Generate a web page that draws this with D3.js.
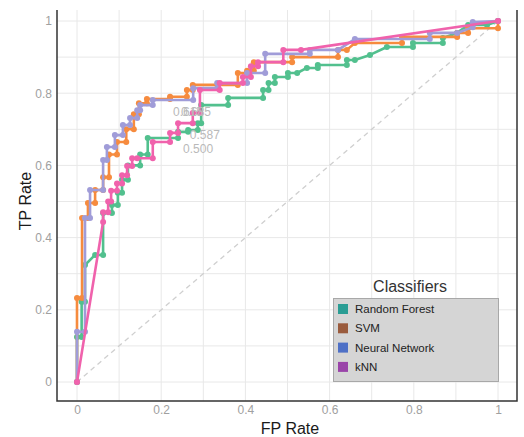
<!DOCTYPE html>
<html>
<head>
<meta charset="utf-8">
<script src="https://cdn.jsdelivr.net/npm/d3@7"></script>
<style>
  html, body { margin: 0; padding: 0; background: #fff; }
  svg { display: block; font-family: "Liberation Sans", Arial, sans-serif; }
</style>
</head>
<body>
<svg id="chart" width="524" height="437"></svg>
<script>
// ROC curves for four classifiers
const classifiers = ["Random Forest", "SVM", "Neural Network", "kNN"];
const lineColors = ["#52c08e", "#f68b3e", "#a09cd8", "#f062ac"];
const legendColors = ["#2a9d94", "#9a5b3d", "#4e70c6", "#9a44a9"];

const rfFpr = [0, 0, 0.011, 0.011, 0.019, 0.019, 0.043, 0.062, 0.062, 0.083, 0.083, 0.097, 0.097, 0.107, 0.107, 0.121, 0.121, 0.15, 0.15, 0.168, 0.168, 0.24, 0.24, 0.264, 0.264, 0.287, 0.287, 0.295, 0.295, 0.359, 0.359, 0.442, 0.442, 0.455, 0.455, 0.47, 0.47, 0.501, 0.501, 0.523, 0.546, 0.572, 0.572, 0.641, 0.641, 0.66, 0.696, 0.736, 0.798, 0.798, 0.869, 0.869, 0.903, 0.929, 0.974, 1];
const rfTpr = [0, 0.125, 0.125, 0.222, 0.222, 0.324, 0.352, 0.352, 0.468, 0.468, 0.49, 0.49, 0.524, 0.524, 0.56, 0.56, 0.6, 0.6, 0.63, 0.63, 0.676, 0.676, 0.693, 0.693, 0.698, 0.698, 0.717, 0.717, 0.767, 0.767, 0.787, 0.787, 0.809, 0.809, 0.828, 0.828, 0.845, 0.845, 0.856, 0.856, 0.87, 0.87, 0.878, 0.878, 0.892, 0.892, 0.906, 0.928, 0.928, 0.939, 0.939, 0.953, 0.967, 0.989, 0.989, 1];

const svmFpr = [0, 0, 0.012, 0.012, 0.026, 0.026, 0.043, 0.043, 0.062, 0.062, 0.076, 0.076, 0.095, 0.095, 0.117, 0.117, 0.135, 0.135, 0.147, 0.147, 0.166, 0.166, 0.221, 0.221, 0.261, 0.261, 0.275, 0.275, 0.382, 0.382, 0.404, 0.404, 0.42, 0.42, 0.511, 0.511, 0.62, 0.62, 0.641, 0.66, 0.772, 0.772, 0.903, 0.903, 0.929, 0.929, 1, 1];
const svmTpr = [0, 0.233, 0.233, 0.454, 0.454, 0.496, 0.496, 0.532, 0.532, 0.567, 0.567, 0.63, 0.63, 0.665, 0.665, 0.7, 0.7, 0.742, 0.742, 0.772, 0.772, 0.784, 0.784, 0.79, 0.79, 0.809, 0.809, 0.823, 0.823, 0.856, 0.856, 0.862, 0.862, 0.886, 0.886, 0.9, 0.9, 0.92, 0.92, 0.939, 0.939, 0.956, 0.956, 0.967, 0.967, 0.98, 0.98, 1];

const nnFpr = [0, 0, 0.019, 0.019, 0.031, 0.031, 0.062, 0.062, 0.071, 0.071, 0.09, 0.09, 0.109, 0.109, 0.126, 0.126, 0.143, 0.143, 0.15, 0.15, 0.18, 0.18, 0.276, 0.276, 0.333, 0.333, 0.404, 0.404, 0.447, 0.447, 0.553, 0.553, 0.62, 0.66, 0.838, 0.838, 0.903, 0.94, 0.94, 1];
const nnTpr = [0, 0.139, 0.139, 0.454, 0.454, 0.532, 0.532, 0.615, 0.615, 0.651, 0.651, 0.684, 0.684, 0.712, 0.712, 0.731, 0.731, 0.753, 0.753, 0.767, 0.767, 0.781, 0.781, 0.814, 0.814, 0.828, 0.828, 0.856, 0.856, 0.909, 0.909, 0.92, 0.92, 0.95, 0.95, 0.967, 0.967, 0.983, 0.997, 1];

const knnFpr = [0, 0.062, 0.062, 0.074, 0.074, 0.081, 0.081, 0.095, 0.095, 0.107, 0.107, 0.119, 0.119, 0.131, 0.131, 0.143, 0.18, 0.18, 0.221, 0.221, 0.24, 0.24, 0.275, 0.275, 0.292, 0.292, 0.339, 0.339, 0.394, 0.394, 0.413, 0.413, 0.43, 0.43, 0.49, 0.49, 0.532, 1];
const knnTpr = [0, 0.443, 0.47, 0.47, 0.5, 0.5, 0.53, 0.53, 0.55, 0.55, 0.573, 0.573, 0.598, 0.598, 0.62, 0.62, 0.62, 0.665, 0.665, 0.69, 0.69, 0.717, 0.717, 0.745, 0.745, 0.809, 0.809, 0.828, 0.828, 0.845, 0.845, 0.875, 0.875, 0.886, 0.886, 0.92, 0.92, 1];

const seriesFpr = [rfFpr, svmFpr, nnFpr, knnFpr];
const seriesTpr = [rfTpr, svmTpr, nnTpr, knnTpr];

// threshold annotations: [fpr, tpr, text]
const thresholdText = ["0.615", "0.685", "0.587", "0.500"];
const thresholdFpr = [0.228, 0.247, 0.268, 0.252];
const thresholdTpr = [0.736, 0.736, 0.673, 0.634];

const xTicks = [0, 0.2, 0.4, 0.6, 0.8, 1];
const yTicks = [0, 0.2, 0.4, 0.6, 0.8, 1];
const xTickLabels = ["0", "0.2", "0.4", "0.6", "0.8", "1"];
const yTickLabels = ["0", "0.2", "0.4", "0.6", "0.8", "1"];
const gridValues = d3.range(0, 11).map(i => i / 10);

const svg = d3.select("#chart");
const frame = { left: 57, right: 517, top: 10, bottom: 401 };

const x = d3.scaleLinear().domain([0, 1]).range([77, 498]);
const y = d3.scaleLinear().domain([0, 1]).range([382, 21]);

// grid
const grid = svg.append("g");
grid.selectAll("line.v").data(gridValues).join("line")
  .attr("x1", d => x(d)).attr("x2", d => x(d))
  .attr("y1", frame.top).attr("y2", frame.bottom)
  .attr("stroke", "#e8e8e8").attr("stroke-width", 1);
grid.selectAll("line.h").data(gridValues).join("line")
  .attr("y1", d => y(d)).attr("y2", d => y(d))
  .attr("x1", frame.left).attr("x2", frame.right)
  .attr("stroke", "#e8e8e8").attr("stroke-width", 1);

// frame (left, bottom, right)
svg.append("path")
  .attr("d", `M${frame.left},${frame.top}V${frame.bottom}H${frame.right}V${frame.top}`)
  .attr("fill", "none").attr("stroke", "#333").attr("stroke-width", 1.5);

// axes
const xAxis = d3.axisBottom(x).tickValues(xTicks)
  .tickFormat((d, i) => xTickLabels[i]).tickSize(0).tickPadding(0);
const gx = svg.append("g").attr("transform", `translate(0,${frame.bottom + 4})`).call(xAxis);
const yAxis = d3.axisLeft(y).tickValues(yTicks)
  .tickFormat((d, i) => yTickLabels[i]).tickSize(0).tickPadding(0);
const gy = svg.append("g").attr("transform", `translate(${frame.left - 5},0)`).call(yAxis);
[gx, gy].forEach(g => {
  g.select(".domain").remove();
  g.selectAll("text").attr("fill", "#a0a0a0").attr("font-size", 12)
    .attr("font-family", "'Liberation Sans', Arial, sans-serif");
});

// chance diagonal
svg.append("line")
  .attr("x1", x(0)).attr("y1", y(0)).attr("x2", x(1)).attr("y2", y(1))
  .attr("stroke", "#cfcfcf").attr("stroke-width", 1.3).attr("stroke-dasharray", "5,4");

// ROC curves with points
const line = d3.line().x(d => x(d[0])).y(d => y(d[1]));
classifiers.forEach((name, k) => {
  const pts = seriesFpr[k].map((f, i) => [f, seriesTpr[k][i]]);
  const g = svg.append("g");
  g.append("path").datum(pts)
    .attr("d", line).attr("fill", "none")
    .attr("stroke", lineColors[k]).attr("stroke-width", 2.6)
    .attr("stroke-linejoin", "round");
  g.selectAll("circle").data(pts).join("circle")
    .attr("cx", d => x(d[0])).attr("cy", d => y(d[1])).attr("r", 3)
    .attr("fill", lineColors[k]);
});

// threshold labels
svg.selectAll("text.thr").data(thresholdText).join("text")
  .attr("class", "thr")
  .attr("x", (d, i) => x(thresholdFpr[i]))
  .attr("y", (d, i) => y(thresholdTpr[i]))
  .attr("fill", "#b9b9b9").attr("font-size", 12)
  .attr("font-family", "'Liberation Sans', Arial, sans-serif")
  .text(d => d);

// axis titles
svg.append("text").attr("x", 290).attr("y", 434)
  .attr("text-anchor", "middle").attr("font-size", 16).attr("fill", "#1a1a1a")
  .text("FP Rate");
svg.append("text").attr("transform", "translate(31,201) rotate(-90)")
  .attr("text-anchor", "middle").attr("font-size", 16).attr("fill", "#1a1a1a")
  .text("TP Rate");

// legend
const lg = svg.append("g");
lg.append("text").attr("x", 410).attr("y", 292).attr("text-anchor", "middle")
  .attr("font-size", 16).attr("fill", "#333").text("Classifiers");
lg.append("rect").attr("x", 333.5).attr("y", 298.5).attr("width", 165).attr("height", 83)
  .attr("fill", "#d5d5d5").attr("stroke", "#a8a8a8").attr("stroke-width", 1);
classifiers.forEach((name, k) => {
  const cy = 309 + k * 19.3;
  lg.append("rect").attr("x", 338).attr("y", cy - 5).attr("width", 10).attr("height", 10)
    .attr("fill", legendColors[k]);
  lg.append("text").attr("x", 355).attr("y", cy + 4).attr("font-size", 11.5)
    .attr("fill", "#222").text(name);
});
</script>
</body>
</html>
